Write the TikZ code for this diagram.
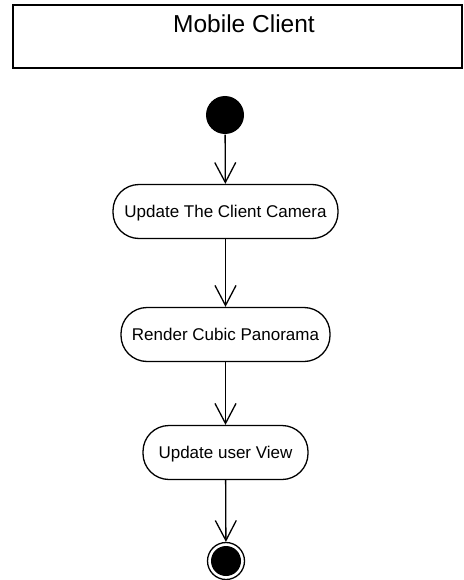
\documentclass[tikz,border=0pt]{standalone}
\usepackage{fontspec}
\setmainfont{Liberation Sans}
\usetikzlibrary{arrows.meta}
\begin{document}
\begin{tikzpicture}[x=1pt,y=-1pt,
  line width=1.3pt,
  actbox/.style={draw, rounded corners=26pt, minimum height=54pt,
    inner xsep=10pt, text height=12pt, text depth=0pt,
    font=\fontsize{17}{20}\selectfont},
  flow/.style={-{Straight Barb[length=20pt,width=21pt,line width=1.3pt]}},
  startnode/.style={circle, fill=black, minimum size=38pt, inner sep=0pt},
  endring/.style={circle, draw, line width=1.3pt, minimum size=37pt, inner sep=0pt},
  enddot/.style={circle, fill=black, minimum size=30pt, inner sep=0pt}]
\useasboundingbox (0,0) rectangle (463,580);

% swimlane header
\draw (13,5) rectangle (462,68);
\node[anchor=base, font=\fontsize{24.5}{28}\selectfont, inner sep=0pt] (lane) at (244,33) {Mobile Client};

% initial node
\node[startnode] (start) at (225,115) {};

% actions
\node[actbox, minimum width=225pt] (cam) at (225.5,211.5) {Update The Client Camera};
\node[actbox, minimum width=209pt] (pano) at (225.5,334.5) {Render Cubic Panorama};
\node[actbox, minimum width=165pt] (view) at (225.5,452.5) {Update user View};

% final node
\node[endring] (final) at (226,561) {};
\node[enddot] (finaldot) at (226,561) {};

% control flow
\draw[flow] (start) -- (cam);
\draw[flow] (cam) -- (pano);
\draw[flow] (pano) -- (view);
\draw[flow] (view) -- (final);
\end{tikzpicture}
\end{document}
